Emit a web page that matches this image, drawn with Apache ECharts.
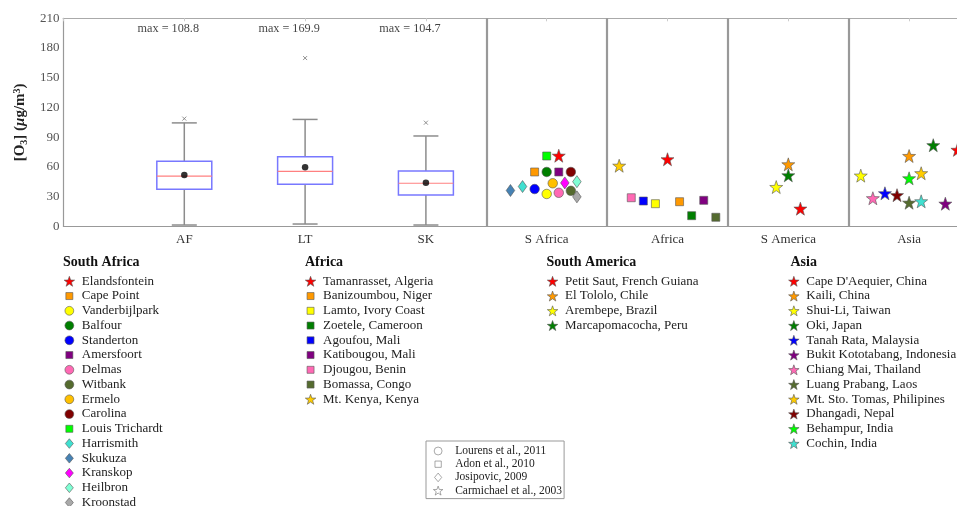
<!DOCTYPE html>
<html><head><meta charset="utf-8">
<script src="https://cdn.jsdelivr.net/npm/echarts@6/dist/echarts.min.js"></script>
<style>html,body{margin:0;padding:0;background:#fff}#c{width:957px;height:506px}</style>
</head><body><div id="c"></div>
<script>
// ---------- data ----------
const xCats = ['', 'AF', 'LT', 'SK', 'S Africa', 'Africa', 'S America', 'Asia'];
const dividers = [3.5, 4.5, 5.5, 6.5];

const boxX = [1, 2, 3];
const boxMin = [1.5, 2.5, 1.5];
const boxQ1 = [37.5, 42.6, 31.8];
const boxMed = [50.9, 55.7, 43.6];
const boxQ3 = [65.8, 70.4, 56.0];
const boxMax = [104.5, 108.0, 91.3];
const boxMean = [52.0, 59.7, 44.2];
const boxOutlier = [108.8, 169.9, 104.7];

const saNames = ['Elandsfontein','Cape Point','Vanderbijlpark','Balfour','Standerton','Amersfoort','Delmas','Witbank','Ermelo','Carolina','Louis Trichardt','Harrismith','Skukuza','Kranskop','Heilbron','Kroonstad'];
const saX = [4.1, 3.9, 4.0, 4.0, 3.9, 4.1, 4.1, 4.2, 4.05, 4.2, 4.0, 3.8, 3.7, 4.15, 4.25, 4.25];
const saO3 = [71.4, 55, 32.8, 55, 37.8, 55, 34.0, 36.0, 43.6, 55, 71.1, 40.3, 36.3, 44.0, 45.2, 29.9];

const afNames = ['Tamanrasset, Algeria','Banizoumbou, Niger','Lamto, Ivory Coast','Zoetele, Cameroon','Agoufou, Mali','Katibougou, Mali','Djougou, Benin','Bomassa, Congo','Mt. Kenya, Kenya'];
const afX = [5.0, 5.1, 4.9, 5.2, 4.8, 5.3, 4.7, 5.4, 4.6];
const afO3 = [67.8, 25.0, 23.0, 10.9, 25.7, 26.4, 29.0, 9.3, 61.3];

const amNames = ['Petit Saut, French Guiana','El Tololo, Chile','Arembepe, Brazil','Marcapomacocha, Peru'];
const amX = [6.1, 6.0, 5.9, 6.0];
const amO3 = [18.0, 62.7, 39.8, 51.6];

const asNames = ["Cape D'Aequier, China",'Kaili, China','Shui-Li, Taiwan','Oki, Japan','Tanah Rata, Malaysia','Bukit Kototabang, Indonesia','Chiang Mai, Thailand','Luang Prabang, Laos','Mt. Sto. Tomas, Philipines','Dhangadi, Nepal','Behampur, India','Cochin, India'];
const asX = [7.4, 7.0, 6.6, 7.2, 6.8, 7.3, 6.7, 7.0, 7.1, 6.9, 7.0, 7.1];
const asO3 = [77.3, 71.1, 51.3, 82.0, 33.5, 23.0, 28.5, 24.0, 53.7, 31.6, 48.6, 25.4];

const studyNames = ['Lourens et al., 2011', 'Adon et al., 2010', 'Josipovic, 2009', 'Carmichael et al., 2003'];

// ---------- styles ----------
const saColors = ['#ff0000','#ff9900','#ffff00','#007f00','#0000ff','#800080','#ff69b4','#556b2f','#ffc000','#800000','#00ff00','#40e0d0','#4682b4','#ff00ff','#7fffd4','#a9a9a9'];
const saSyms = ['star','sq','ci','ci','ci','sq','ci','ci','ci','ci','sq','di','di','di','di','di'];
const afColors = ['#ff0000','#ff9900','#ffff00','#007f00','#0000ff','#800080','#ff69b4','#556b2f','#ffcc00'];
const afSyms = ['star','sq','sq','sq','sq','sq','sq','sq','star'];
const amColors = ['#ff0000','#ff9900','#ffff00','#007f00'];
const amSyms = ['star','star','star','star'];
const asColors = ['#ff0000','#ff9900','#ffff00','#007f00','#0000ff','#800080','#ff69b4','#556b2f','#ffcc00','#800000','#00ff00','#40e0d0'];
const asSyms = asNames.map(() => 'star');
const studySyms = ['ci','sq','di','star'];

function starPath() {
  const pts = [];
  for (let i = 0; i < 10; i++) {
    const a = (-90 + i * 36) * Math.PI / 180;
    const r = i % 2 === 0 ? 100 : 40;
    pts.push((r * Math.cos(a)).toFixed(1) + ',' + (r * Math.sin(a)).toFixed(1));
  }
  return 'path://M' + pts.join('L') + 'Z';
}
const STAR = starPath();
const SYM = { star: STAR, sq: 'rect', ci: 'circle', di: 'diamond' };
const SIZE = { star: 13, sq: 8, ci: 9.5, di: [8.5, 12] };
// legend icons (path icons keep their aspect inside the legend box)
const LEG_ICON = {
  star: STAR,
  sq: 'path://M0,0M10,10M1.5,1.5L8.5,1.5L8.5,8.5L1.5,8.5Z',
  ci: 'path://M0,0M10,10M5,0.6A4.4,4.4,0,1,1,4.99,0.6Z',
  di: 'path://M0,0M10,10M5,0.2L9,5L5,9.8L1,5Z'
};
const FONT = 'Liberation Serif';

function pointSeries(names, xs, ys, colors, syms) {
  return names.map((n, i) => ({
    type: 'scatter', name: n, data: [[xs[i], ys[i]]],
    symbol: SYM[syms[i]], symbolSize: SIZE[syms[i]],
    z: syms[i] === 'star' ? 5 : 4,
    itemStyle: { color: colors[i], borderColor: '#555', borderWidth: 0.6, opacity: 1 }
  }));
}

const BOX_W = 0.455, CAP_W = 0.207;
const boxData = boxX.map((x, i) => [x, boxMin[i], boxQ1[i], boxMed[i], boxQ3[i], boxMax[i]]);

const series = [
  {
    type: 'custom', name: 'box', data: boxData, encode: { x: 0, y: [1, 2, 3, 4, 5] },
    renderItem(params, api) {
      const x = api.value(0);
      const pMin = api.coord([x, api.value(1)]);
      const pQ1 = api.coord([x, api.value(2)]);
      const pMed = api.coord([x, api.value(3)]);
      const pQ3 = api.coord([x, api.value(4)]);
      const pMax = api.coord([x, api.value(5)]);
      const bw = api.size([BOX_W, 0])[0];
      const cw = api.size([CAP_W, 0])[0];
      const cx = pMin[0];
      const ws = { stroke: '#8c8c8c', lineWidth: 1.5 };
      return { type: 'group', children: [
        { type: 'line', shape: { x1: cx, y1: pQ3[1], x2: cx, y2: pMax[1] }, style: ws },
        { type: 'line', shape: { x1: cx, y1: pQ1[1], x2: cx, y2: pMin[1] }, style: ws },
        { type: 'line', shape: { x1: cx - cw / 2, y1: pMax[1], x2: cx + cw / 2, y2: pMax[1] }, style: ws },
        { type: 'line', shape: { x1: cx - cw / 2, y1: pMin[1], x2: cx + cw / 2, y2: pMin[1] }, style: ws },
        { type: 'rect', shape: { x: cx - bw / 2, y: pQ3[1], width: bw, height: pQ1[1] - pQ3[1] }, style: { fill: 'none', stroke: '#7878ff', lineWidth: 1.5 } },
        { type: 'line', shape: { x1: cx - bw / 2, y1: pMed[1], x2: cx + bw / 2, y2: pMed[1] }, style: { stroke: '#ff8080', lineWidth: 1.2 } }
      ] };
    },
    markLine: {
      silent: true, symbol: ['none', 'none'], label: { show: false },
      lineStyle: { color: '#999', width: 2.2, type: 'solid' },
      data: dividers.map(v => ({ xAxis: v }))
    }
  },
  { type: 'scatter', name: 'mean', data: boxX.map((x, i) => [x, boxMean[i]]), symbol: 'circle', symbolSize: 6.5, itemStyle: { color: '#000' }, z: 6 },
  { type: 'scatter', name: 'outlier', data: boxX.map((x, i) => [x, boxOutlier[i]]), symbol: 'path://M0,0L10,10M10,0L0,10', symbolSize: 4,
    itemStyle: { color: 'none', borderColor: '#777', borderWidth: 1 } },
  { type: 'scatter', name: 'maxlabel', data: boxX.map((x, i) => [x, 199, boxOutlier[i]]), symbolSize: 0,
    label: { show: true, position: 'inside', offset: [-16, 0], formatter: p => 'max = ' + p.value[2].toFixed(1), color: '#111', fontFamily: FONT, fontSize: 12.2 } },
  ...pointSeries(saNames, saX, saO3, saColors, saSyms),
  ...pointSeries(afNames, afX, afO3, afColors, afSyms),
  ...pointSeries(amNames, amX, amO3, amColors, amSyms),
  ...pointSeries(asNames, asX, asO3, asColors, asSyms),
  ...studyNames.map((n, i) => ({ type: 'scatter', name: n, data: [], symbol: SYM[studySyms[i]], symbolSize: 8,
    itemStyle: { color: '#fff', borderColor: '#666', borderWidth: 0.8 } }))
];

function legend(names, syms, left, extra) {
  return Object.assign({
    orient: 'vertical', left: left, top: 274.8, height: 400, padding: 0,
    itemWidth: 15, itemHeight: 10, itemGap: 1.75, selectedMode: false,
    itemStyle: { borderWidth: 0.6, borderColor: '#555' },
    textStyle: { fontFamily: FONT, fontSize: 13, color: '#222' },
    data: names.map((n, i) => ({ name: n, icon: LEG_ICON[syms[i]] }))
  }, extra || {});
}
function head(text, left) {
  return { text: text, left: left, top: 255, padding: 0,
    textStyle: { fontFamily: FONT, fontSize: 14, fontWeight: 'bold', color: '#111' } };
}

const chart = echarts.init(document.getElementById('c'), null, { renderer: 'canvas' });
chart.setOption({
  animation: false,
  backgroundColor: '#fff',
  title: [head('South Africa', 63), head('Africa', 305), head('South America', 546.5), head('Asia', 790.5)],
  grid: { left: 63.5, top: 18.3, width: 906, height: 208.2, outerBoundsMode: 'none', containLabel: false },
  legend: [
    legend(saNames, saSyms, 63.8),
    legend(afNames, afSyms, 305),
    legend(amNames, amSyms, 547),
    legend(asNames, asSyms, 788.3),
    legend(studyNames, studySyms, 426, { top: 441, itemWidth: 20, itemHeight: 9, itemGap: 1.2, padding: [4, 2, 2, 7],
      itemStyle: { borderWidth: 0.8, borderColor: '#777' },
      borderColor: '#999', borderWidth: 1, textStyle: { fontFamily: FONT, fontSize: 11.5, color: '#222', padding: [0, 0, 0, 2] } })
  ],
  xAxis: [
    { type: 'value', min: 0, max: 7.5, interval: 1, splitLine: { show: false },
      axisLine: { lineStyle: { color: '#999', width: 1.2 } }, axisTick: { show: false },
      axisLabel: { formatter: v => xCats[v] || '', margin: 7, fontFamily: FONT, fontSize: 13, color: '#333' } },
    { type: 'value', position: 'top', min: 0, max: 7.5, interval: 1, splitLine: { show: false },
      axisLine: { show: true, lineStyle: { color: '#aaa', width: 1.2 } },
      axisTick: { show: true, inside: true, length: 3, lineStyle: { color: '#ccc' } }, axisLabel: { show: false } }
  ],
  yAxis: {
    type: 'value', min: 0, max: 210, interval: 30, splitLine: { show: false },
    axisLine: { show: true, lineStyle: { color: '#999', width: 1.2 } }, axisTick: { show: false },
    axisLabel: { margin: 4, fontFamily: FONT, fontSize: 13, color: '#555' },
    name: '[O{sub|3}] ({it|μ}g/m{sup|3})', nameLocation: 'middle', nameRotate: 90, nameGap: 25,
    nameTextStyle: { fontFamily: FONT, fontSize: 15, fontWeight: 'bold', color: '#222',
      rich: {
        sub: { fontFamily: FONT, fontSize: 10, fontWeight: 'bold', color: '#222', verticalAlign: 'bottom', padding: [7, 0, 0, 0] },
        sup: { fontFamily: FONT, fontSize: 10, fontWeight: 'bold', color: '#222', verticalAlign: 'top', padding: [0, 0, 7, 0] },
        it: { fontFamily: FONT, fontSize: 15, fontWeight: 'bold', fontStyle: 'italic', color: '#222' }
      } }
  },
  series: series
});
</script></body></html>
